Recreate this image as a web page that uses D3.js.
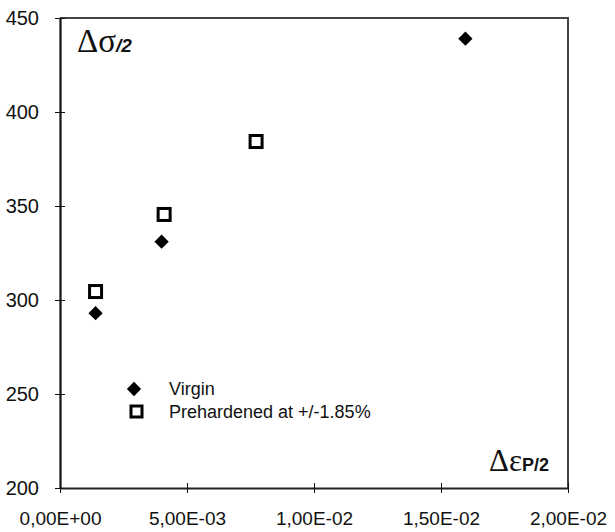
<!DOCTYPE html>
<html>
<head>
<meta charset="utf-8">
<script src="https://cdn.jsdelivr.net/npm/d3@7"></script>
<style>
  body { margin: 0; background: #fff; }
  svg { display: block; font-family: "Liberation Sans", Arial, sans-serif; }
</style>
</head>
<body>
<div id="chart"></div>
<script>
// Data
const virginStrain = [0.00140, 0.00400, 0.01596];
const virginStress = [293, 331, 439];
const preStrain = [0.00140, 0.00410, 0.00772];
const preStress = [304.5, 345.5, 384.3];
const xTicks = [0, 0.005, 0.01, 0.015, 0.02];
const xTickLabels = ["0,00E+00", "5,00E-03", "1,00E-02", "1,50E-02", "2,00E-02"];
const yTicks = [200, 250, 300, 350, 400, 450];
const legendLabels = ["Virgin", "Prehardened at +/-1.85%"];

const width = 615, height = 532;
const margin = { left: 60, right: 47, top: 18, bottom: 44 };

const svg = d3.select("#chart").append("svg")
  .attr("width", width).attr("height", height);

const x = d3.scaleLinear().domain([0, 0.02]).range([margin.left, width - margin.right]);
const y = d3.scaleLinear().domain([200, 450]).range([height - margin.bottom, margin.top]);

// top and right frame (grayish, like the halftone in the scan)
svg.append("path")
  .attr("d", `M${x(0)},${y(450)}H${x(0.02)}V${y(200)}`)
  .attr("fill", "none").attr("stroke", "#444").attr("stroke-width", 2);

// y axis with cross ticks
const yAxis = svg.append("g").attr("transform", `translate(${x(0)},0)`)
  .call(d3.axisLeft(y).tickValues(yTicks).tickSize(5).tickPadding(16).tickSizeOuter(0));
yAxis.select(".domain").attr("stroke", "#111").attr("stroke-width", 2.2);
yAxis.selectAll(".tick line").attr("x2", 5).attr("x1", -5).attr("stroke", "#111");
yAxis.selectAll("text").attr("font-size", 20).attr("fill", "#111");

// x axis with cross ticks
const xAxis = svg.append("g").attr("transform", `translate(0,${y(200)})`)
  .call(d3.axisBottom(x).tickValues(xTicks).tickFormat((d, i) => xTickLabels[i])
    .tickSize(5).tickPadding(19).tickSizeOuter(0));
xAxis.select(".domain").attr("stroke", "#222").attr("stroke-width", 2);
xAxis.selectAll(".tick line").attr("y1", -5).attr("y2", 5).attr("stroke", "#111");
xAxis.selectAll("text").attr("font-size", 19).attr("fill", "#111");

// markers
const diamond = d3.symbol().type(d3.symbolDiamond2).size(130);

svg.append("g").selectAll("path")
  .data(virginStrain.map((d, i) => [d, virginStress[i]]))
  .join("path")
  .attr("transform", d => `translate(${x(d[0])},${y(d[1])})`)
  .attr("d", diamond)
  .attr("fill", "#000");

svg.append("g").selectAll("rect")
  .data(preStrain.map((d, i) => [d, preStress[i]]))
  .join("rect")
  .attr("x", d => x(d[0]) - 6)
  .attr("y", d => y(d[1]) - 6)
  .attr("width", 12).attr("height", 12)
  .attr("fill", "#fff").attr("stroke", "#000").attr("stroke-width", 3);

// legend
const leg = svg.append("g");
leg.append("path").attr("transform", "translate(134,389)").attr("d", diamond).attr("fill", "#000");
leg.append("rect").attr("x", 131).attr("y", 406).attr("width", 11).attr("height", 11)
  .attr("fill", "#fff").attr("stroke", "#000").attr("stroke-width", 3);
leg.selectAll("text").data(legendLabels).join("text")
  .attr("x", 169).attr("y", (d, i) => 395 + i * 23)
  .attr("font-size", 18).attr("fill", "#111")
  .text(d => d);

// axis titles
const yt = svg.append("text").attr("x", 77).attr("y", 52).attr("fill", "#111");
yt.append("tspan").attr("font-family", "Liberation Serif, serif").attr("font-size", 33).text("Δσ");
yt.append("tspan").attr("font-size", 19).attr("font-weight", "bold").attr("font-style", "italic").text("/2");

const xt = svg.append("text").attr("x", 489).attr("y", 471).attr("fill", "#111");
xt.append("tspan").attr("font-family", "Liberation Serif, serif").attr("font-size", 31).text("Δε");
xt.append("tspan").attr("font-size", 18).attr("font-weight", "bold").text("P/2");
</script>
</body>
</html>
